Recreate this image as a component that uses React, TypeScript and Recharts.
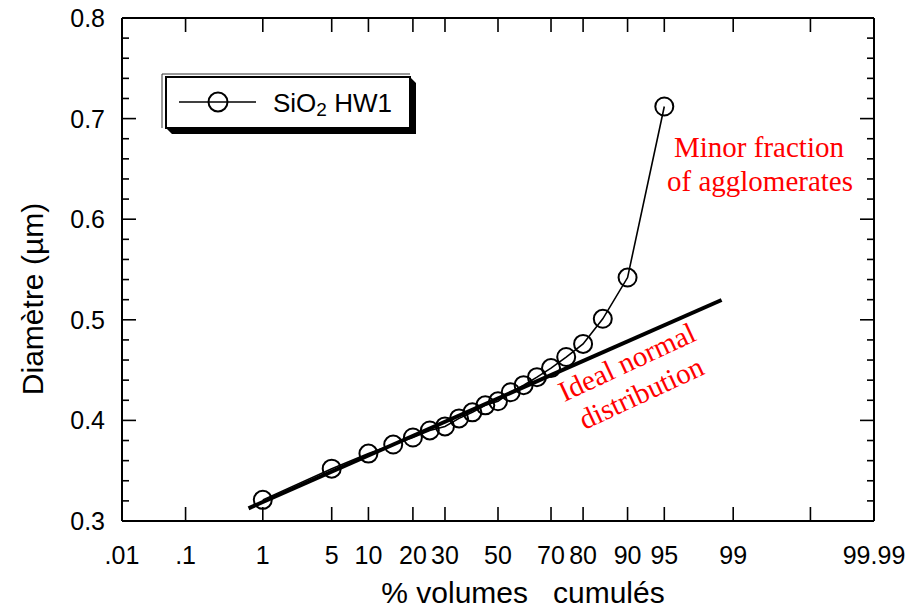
import React from 'react';
import { LineChart, Line, XAxis, YAxis } from 'recharts';

// ---- data ----
const percents = [1, 5, 10, 15, 20, 25, 30, 35, 40, 45, 50, 55, 60, 65, 70, 75, 80, 85, 90, 95];
const diameters = [0.321, 0.352, 0.367, 0.376, 0.383, 0.39, 0.394, 0.402, 0.408, 0.415, 0.419, 0.428, 0.435, 0.443, 0.452, 0.463, 0.476, 0.501, 0.542, 0.712];
const idealPercents = [0.68, 98.65];
const idealDiameters = [0.3126, 0.5197];
const xTickPercents = [0.01, 0.1, 1, 5, 10, 20, 30, 50, 70, 80, 90, 95, 99, 99.9, 99.99];
const xTickLabels = ['.01', '.1', '1', '5', '10', '20', '30', '50', '70', '80', '90', '95', '99', '', '99.99'];
const yMajorTicks = [0.3, 0.4, 0.5, 0.6, 0.7, 0.8];
const yMinorTicks = [0.32, 0.34, 0.36, 0.38, 0.42, 0.44, 0.46, 0.48, 0.52, 0.54, 0.56, 0.58, 0.62, 0.64, 0.66, 0.68, 0.72, 0.74, 0.76, 0.78];
const yTickLabels = ['0.3', '0.4', '0.5', '0.6', '0.7', '0.8'];
const seriesName = 'SiO';
const seriesSub = '2';
const seriesSuffix = ' HW1';

// ---- probability (normal quantile) axis transform ----
function probit(p: number): number {
  const a = [-3.969683028665376e1, 2.209460984245205e2, -2.759285104469687e2, 1.38357751867269e2, -3.066479806614716e1, 2.506628277459239];
  const b = [-5.447609879822406e1, 1.615858368580409e2, -1.556989798598866e2, 6.680131188771972e1, -1.328068155288572e1];
  const c = [-7.784894002430293e-3, -3.223964580411365e-1, -2.400758277161838, -2.549732539343734, 4.374664141464968, 2.938163982698783];
  const d = [7.784695709041462e-3, 3.224671290700398e-1, 2.445134137142996, 3.754408661907416];
  const pl = 0.02425;
  const ph = 1 - pl;
  let q: number;
  let r: number;
  if (p < pl) {
    q = Math.sqrt(-2 * Math.log(p));
    return (((((c[0] * q + c[1]) * q + c[2]) * q + c[3]) * q + c[4]) * q + c[5]) / ((((d[0] * q + d[1]) * q + d[2]) * q + d[3]) * q + 1);
  }
  if (p <= ph) {
    q = p - 0.5;
    r = q * q;
    return ((((((a[0] * r + a[1]) * r + a[2]) * r + a[3]) * r + a[4]) * r + a[5]) * q) / (((((b[0] * r + b[1]) * r + b[2]) * r + b[3]) * r + b[4]) * r + 1);
  }
  q = Math.sqrt(-2 * Math.log(1 - p));
  return -(((((c[0] * q + c[1]) * q + c[2]) * q + c[3]) * q + c[4]) * q + c[5]) / ((((d[0] * q + d[1]) * q + d[2]) * q + d[3]) * q + 1);
}
const pz = (pct: number) => probit(pct / 100);

const seriesData = percents.map((p, i) => ({ z: pz(p), d: diameters[i] }));
const idealData = idealPercents.map((p, i) => ({ z: pz(p), d: idealDiameters[i] }));
const xTicksZ = xTickPercents.map(pz);
const zDomain: [number, number] = [pz(xTickPercents[0]), pz(xTickPercents[xTickPercents.length - 1])];
const yTicks = [...yMajorTicks, ...yMinorTicks].sort((u, v) => u - v);

const SANS = '"Liberation Sans", Arial, Helvetica, sans-serif';
const SERIF = '"Liberation Serif", "Times New Roman", Times, serif';
const MAJOR = 14;
const MINOR = 7;

const isMajor = (v: number) => yMajorTicks.some((m) => Math.abs(m - v) < 1e-6);
const labelForX = (v: number) => {
  const i = xTicksZ.findIndex((t) => Math.abs(t - v) < 1e-6);
  return i >= 0 ? xTickLabels[i] : '';
};
const labelForY = (v: number) => {
  const i = yMajorTicks.findIndex((t) => Math.abs(t - v) < 1e-6);
  return i >= 0 ? yTickLabels[i] : '';
};

const BottomTick = (props: any) => {
  const { x, y, payload } = props;
  return (
    <g>
      <line x1={x} y1={y} x2={x} y2={y - MAJOR} stroke="#000" strokeWidth={1.6} />
      <text x={x} y={y + 43} textAnchor="middle" fontFamily={SANS} fontSize={25} fill="#000">
        {labelForX(payload.value)}
      </text>
    </g>
  );
};
const TopTick = (props: any) => {
  const { x, y } = props;
  return <line x1={x} y1={y} x2={x} y2={y + MAJOR} stroke="#000" strokeWidth={1.6} />;
};
const LeftTick = (props: any) => {
  const { x, y, payload } = props;
  const major = isMajor(payload.value);
  return (
    <g>
      <line x1={x} y1={y} x2={x + (major ? MAJOR : MINOR)} y2={y} stroke="#000" strokeWidth={1.6} />
      {major && (
        <text x={x - 17} y={y} dy="0.36em" textAnchor="end" fontFamily={SANS} fontSize={25} fill="#000">
          {labelForY(payload.value)}
        </text>
      )}
    </g>
  );
};
const RightTick = (props: any) => {
  const { x, y, payload } = props;
  const major = isMajor(payload.value);
  return <line x1={x} y1={y} x2={x - (major ? MAJOR : MINOR)} y2={y} stroke="#000" strokeWidth={1.6} />;
};

const OpenCircle = (props: any) => {
  const { cx, cy, index } = props;
  if (cx == null || cy == null) return <g key={`d${index}`} />;
  return <circle key={`d${index}`} cx={cx} cy={cy} r={9} fill="none" stroke="#000" strokeWidth={2} />;
};

const axisLine = { stroke: '#000', strokeWidth: 2 };

export default function App() {
  return (
    <div style={{ position: 'absolute', left: 0, top: 0, width: 922, height: 609, background: '#fff' }}>
      <LineChart width={922} height={609} margin={{ top: 13, right: 38, bottom: 38, left: 62 }}>
        <XAxis
          xAxisId="b"
          type="number"
          dataKey="z"
          domain={zDomain}
          ticks={xTicksZ}
          interval={0}
          tickSize={0}
          tickMargin={0}
          height={50}
          axisLine={axisLine}
          tickLine={false}
          tick={BottomTick}
          allowDataOverflow
        />
        <XAxis
          xAxisId="t"
          orientation="top"
          type="number"
          dataKey="z"
          domain={zDomain}
          ticks={xTicksZ}
          interval={0}
          tickSize={0}
          tickMargin={0}
          height={5}
          axisLine={axisLine}
          tickLine={false}
          tick={TopTick}
          allowDataOverflow
        />
        <YAxis
          yAxisId="l"
          type="number"
          domain={[0.3, 0.8]}
          ticks={yTicks}
          interval={0}
          tickSize={0}
          tickMargin={0}
          width={60}
          axisLine={axisLine}
          tickLine={false}
          tick={LeftTick}
          allowDataOverflow
        />
        <YAxis
          yAxisId="r"
          orientation="right"
          type="number"
          domain={[0.3, 0.8]}
          ticks={yTicks}
          interval={0}
          tickSize={0}
          tickMargin={0}
          width={10}
          axisLine={axisLine}
          tickLine={false}
          tick={RightTick}
          allowDataOverflow
        />
        <Line
          xAxisId="b"
          yAxisId="l"
          data={idealData}
          dataKey="d"
          type="linear"
          stroke="#000"
          strokeWidth={4}
          dot={false}
          activeDot={false}
          isAnimationActive={false}
        />
        <Line
          xAxisId="b"
          yAxisId="l"
          data={seriesData}
          dataKey="d"
          type="linear"
          stroke="#000"
          strokeWidth={1.6}
          dot={OpenCircle}
          activeDot={false}
          isAnimationActive={false}
        />
      </LineChart>
      <svg width={922} height={609} style={{ position: 'absolute', left: 0, top: 0, pointerEvents: 'none' }}>
        {/* legend */}
        <polygon points="410,77 416,83 416,134 172,134 166,128 410,128" fill="#000" />
        <polyline points="162,128 162,74 410,74" fill="none" stroke="#333" strokeWidth={1} />
        <rect x={166} y={77} width={244} height={51} fill="#fff" stroke="#000" strokeWidth={2} />
        <line x1={179} y1={102} x2={256} y2={102} stroke="#000" strokeWidth={1.6} />
        <circle cx={218} cy={102} r={9.5} fill="none" stroke="#000" strokeWidth={2} />
        <text x={273} y={112} fontFamily={SANS} fontSize={26} fill="#000">
          {seriesName}
          <tspan fontSize={19} dy={4}>{seriesSub}</tspan>
          <tspan dy={-4}>{seriesSuffix}</tspan>
        </text>
        {/* annotations */}
        <text fontFamily={SERIF} fontSize={29} fill="#ff0000" textAnchor="middle">
          <tspan x={759} y={157}>Minor fraction</tspan>
          <tspan x={760} y={191}>of agglomerates</tspan>
        </text>
        <text fontFamily={SERIF} fontSize={29} fill="#ff0000" textAnchor="middle" transform="rotate(-25 631 371)">
          <tspan x={631} y={371}>Ideal normal</tspan>
          <tspan x={631} dy={34}>distribution</tspan>
        </text>
        {/* axis titles */}
        <text x={523} y={603} textAnchor="middle" fontFamily={SANS} fontSize={30} fill="#000" style={{ whiteSpace: 'pre' }}>
          {'% volumes   cumulés'}
        </text>
        <text x={43} y={299} textAnchor="middle" fontFamily={SANS} fontSize={30} fill="#000" transform="rotate(-90 43 299)">
          Diamètre (µm)
        </text>
      </svg>
    </div>
  );
}
